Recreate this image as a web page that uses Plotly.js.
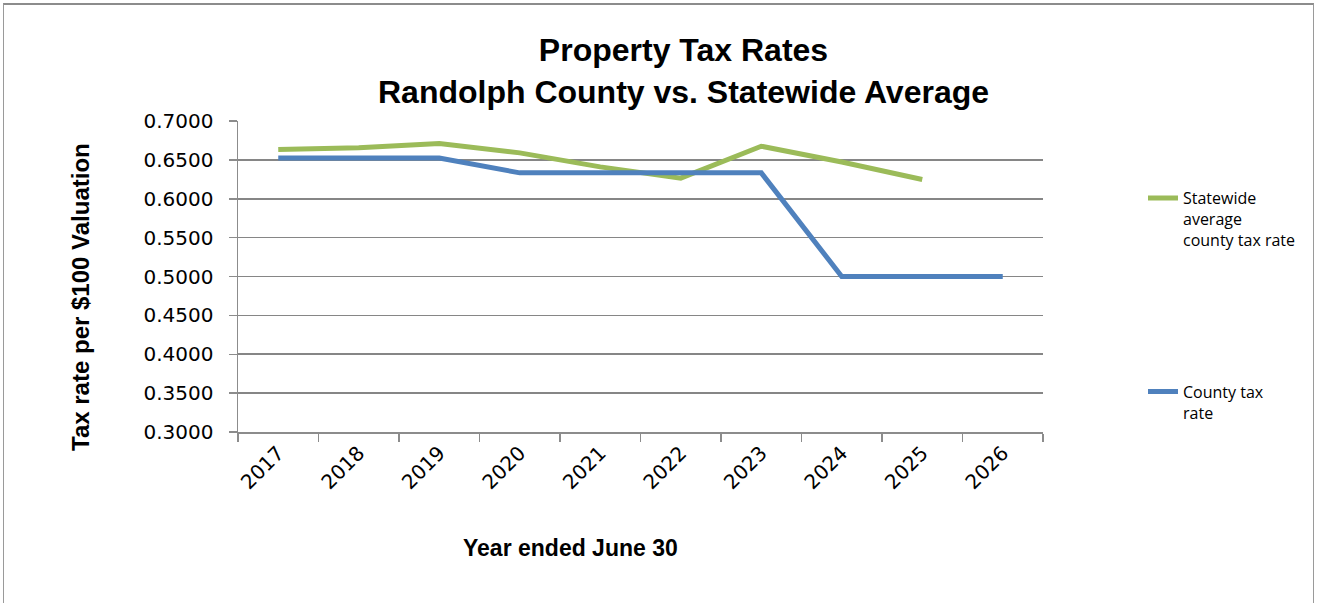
<!DOCTYPE html>
<html>
<head>
<meta charset="utf-8">
<script src="https://cdn.plot.ly/plotly-3.0.1.min.js"></script>
<style>
html,body{margin:0;padding:0;background:#fff;overflow:hidden;}
#wrap{position:relative;width:1317px;height:603px;}
#frame{position:absolute;left:3px;top:3px;width:1309px;height:640px;border-top:2px solid #8c8c8c;border-left:1px solid #9a9a9a;border-right:1px solid #9a9a9a;pointer-events:none;}
#chart{position:absolute;left:0;top:0;width:1317px;height:603px;}
</style>
</head>
<body>
<div id="wrap"><div id="chart"></div><div id="frame"></div></div>
<script>
const years = ['2017','2018','2019','2020','2021','2022','2023','2024','2025','2026'];
const statewideRate = [0.6633, 0.6655, 0.6710, 0.6590, 0.6410, 0.6265, 0.6675, 0.6472, 0.6248, null];
const countyRate = [0.6525, 0.6525, 0.6525, 0.6333, 0.6333, 0.6333, 0.6333, 0.5000, 0.5000, 0.5000];
const yTicks = [0.30, 0.35, 0.40, 0.45, 0.50, 0.55, 0.60, 0.65, 0.70];

const tickFont = {family: 'DejaVu Sans, sans-serif', size: 20, color: '#000'};
const boldFont = 'Liberation Sans, Arial, sans-serif';

const traces = [
  {
    x: years, y: statewideRate, type: 'scatter', mode: 'lines',
    name: 'Statewide<br>average<br>county tax rate',
    line: {color: '#9BBB59', width: 5}, legendgroup: 'a', connectgaps: false
  },
  {
    x: years, y: countyRate, type: 'scatter', mode: 'lines',
    name: 'County tax<br>rate',
    line: {color: '#4F81BD', width: 5}, legendgroup: 'b'
  }
];

const layout = {
  width: 1317, height: 603,
  paper_bgcolor: 'rgba(0,0,0,0)', plot_bgcolor: '#fff',
  margin: {l: 238, r: 274, t: 121, b: 171, pad: 0},
  title: {
    text: '<b>Property Tax Rates<br>Randolph County vs. Statewide Average</b>',
    font: {family: boldFont, size: 32, color: '#000'},
    x: 0.519, xanchor: 'center', y: 0.899, yanchor: 'top'
  },
  showlegend: true,
  legend: {
    x: (1143 - 238) / 805, xanchor: 'left',
    y: (432.3 - 181) / 311.6, yanchor: 'top',
    font: {family: 'Open Sans, sans-serif', size: 16, color: '#000'},
    valign: 'top', tracegroupgap: 128, bgcolor: 'rgba(0,0,0,0)', itemwidth: 30
  },
  xaxis: {
    type: 'category', tickangle: -45, tickfont: tickFont,
    showline: true, linecolor: '#8c8c8c', linewidth: 1.5,
    ticks: 'outside', ticklen: 8, tickcolor: '#8c8c8c', tickwidth: 1.5,
    tickson: 'boundaries', showgrid: false, zeroline: false,
    range: [-0.5, 9.5], fixedrange: true
  },
  yaxis: {
    range: [0.3, 0.7], tickvals: yTicks, tickformat: '.4f',
    tickfont: tickFont, showline: true, linecolor: '#8c8c8c', linewidth: 1.5,
    ticks: 'outside', ticklen: 8, tickcolor: '#8c8c8c', tickwidth: 1.5,
    showgrid: true, gridcolor: '#868686', gridwidth: 1.6, zeroline: false,
    ticklabelstandoff: 11, fixedrange: true
  },
  annotations: [
    {
      text: '<b>Year ended June 30</b>', xref: 'paper', yref: 'paper',
      x: (570 - 238) / 805, y: (432.3 - 549) / 311.6, xanchor: 'center', yanchor: 'middle',
      showarrow: false, font: {family: boldFont, size: 23, color: '#000'}
    },
    {
      text: '<b>Tax rate per $100 Valuation</b>', xref: 'paper', yref: 'paper',
      x: (81 - 238) / 805, y: (432.3 - 297) / 311.6, xanchor: 'center', yanchor: 'middle',
      textangle: -90, showarrow: false, font: {family: boldFont, size: 24, color: '#000'}
    }
  ]
};

Plotly.newPlot('chart', traces, layout, {displayModeBar: false, staticPlot: true});
</script>
</body>
</html>
